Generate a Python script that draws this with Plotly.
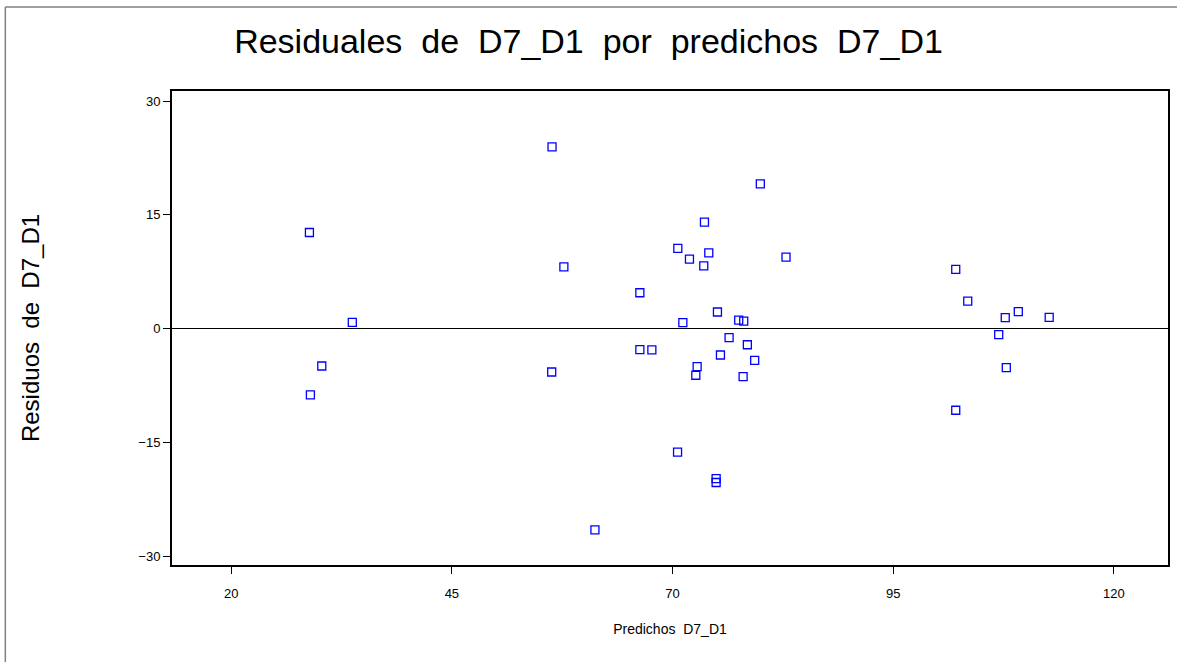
import plotly.graph_objects as go

# Predicted values and residuals of the D7_D1 model
predichos = [28.86, 28.97, 30.26, 33.72, 56.35, 56.31, 57.69, 61.21, 66.30, 66.30,
             67.66, 70.60, 70.57, 71.17, 71.92, 72.79, 72.64, 73.54, 73.62, 74.11,
             74.94, 74.94, 75.09, 75.43, 76.41, 77.50, 78.07, 78.00, 78.48, 79.31,
             79.95, 82.86, 102.09, 102.09, 103.45, 106.96, 107.70, 107.82, 109.18, 112.68]
residuos = [12.68, -8.72, -4.91, 0.84, 23.95, -5.70, 8.16, -26.49, 4.74, -2.76,
            -2.80, 10.58, -16.26, 0.79, 9.17, -5.00, -6.13, 8.29, 14.04, 10.00,
            -19.74, -20.26, 2.20, -3.46, -1.18, 1.14, 1.01, -6.32, -2.11, -4.16,
            19.08, 9.43, 7.82, -10.74, 3.64, -0.79, 1.45, -5.13, 2.24, 1.50]

x_ticks = [20, 45, 70, 95, 120]
y_ticks = [-30, -15, 0, 15, 30]

W, H = 1177, 662
L, R, T, B = 172, 7, 91, 97
PW, PH = W - L - R, H - T - B

FONT = "Liberation Sans, Arial, sans-serif"

fig = go.Figure()
fig.add_trace(go.Scatter(
    x=predichos, y=residuos, mode="markers",
    marker=dict(symbol="square-open", size=8, color="#0000FF",
                line=dict(width=1.3, color="#0000FF")),
    showlegend=False, hoverinfo="x+y",
))

axis_common = dict(
    showline=True, linewidth=2, linecolor="black", mirror=True,
    ticks="outside", ticklen=7, tickwidth=1, tickcolor="black",
    showgrid=False, tickfont=dict(family=FONT, size=13, color="black"),
)

fig.update_xaxes(
    range=[13.29, 126.14], tickvals=x_ticks, zeroline=False,
    ticklabelstandoff=8,
    title=dict(text="Predichos  D7_D1", font=dict(family=FONT, size=14, color="black"),
               standoff=25),
    **axis_common,
)
fig.update_yaxes(
    range=[-31.13, 31.32], tickvals=y_ticks,
    zeroline=True, zerolinecolor="black", zerolinewidth=1,
    title=dict(text="Residuos  de  D7_D1", font=dict(family=FONT, size=24, color="black"),
               standoff=92),
    **axis_common,
)

# Thin grey frame around the graph area (left and top edges)
def px_to_paper_x(px):
    return (px - L) / PW

def px_to_paper_y(py):
    return 1 - (py - T) / PH

fig.add_shape(type="line", xref="paper", yref="paper",
              x0=px_to_paper_x(5), x1=px_to_paper_x(5),
              y0=px_to_paper_y(7), y1=px_to_paper_y(H + 5),
              line=dict(color="#808080", width=1.5))
fig.add_shape(type="line", xref="paper", yref="paper",
              x0=px_to_paper_x(5), x1=px_to_paper_x(W + 5),
              y0=px_to_paper_y(7), y1=px_to_paper_y(7),
              line=dict(color="#808080", width=1.5))

fig.update_layout(
    width=W, height=H,
    margin=dict(l=L, r=R, t=T, b=B, pad=0),
    paper_bgcolor="white", plot_bgcolor="white",
    title=dict(text="Residuales  de  D7_D1  por  predichos  D7_D1",
               font=dict(family=FONT, size=34, color="black"),
               x=0.5, xanchor="center", y=1 - 41 / H, yanchor="middle"),
)

fig.write_html("out.html")
